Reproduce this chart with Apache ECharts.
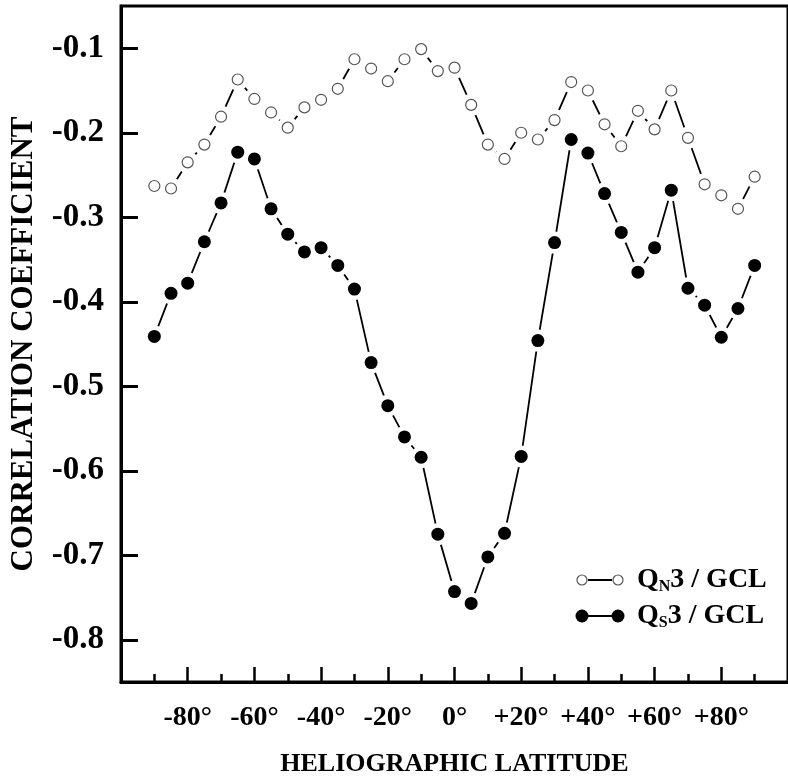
<!DOCTYPE html>
<html><head><meta charset="utf-8">
<script src="https://cdn.jsdelivr.net/npm/echarts@6/dist/echarts.min.js"></script>
<style>html,body{margin:0;padding:0;background:#fff}#c{width:788px;height:782px}</style>
</head><body><div id="c"></div>
<script>
// Heliographic latitude (degrees)
const latitudes = [-90,-85,-80,-75,-70,-65,-60,-55,-50,-45,-40,-35,-30,-25,-20,-15,-10,-5,0,5,10,15,20,25,30,35,40,45,50,55,60,65,70,75,80,85,90];
// Q_N3 / GCL correlation coefficient (open circles)
const qn3 = [-0.263,-0.266,-0.235,-0.214,-0.181,-0.137,-0.160,-0.176,-0.194,-0.170,-0.161,-0.148,-0.113,-0.124,-0.139,-0.113,-0.101,-0.127,-0.123,-0.167,-0.214,-0.231,-0.200,-0.208,-0.185,-0.140,-0.150,-0.190,-0.216,-0.174,-0.196,-0.150,-0.206,-0.261,-0.274,-0.290,-0.252];
// Q_S3 / GCL correlation coefficient (filled circles)
const qs3 = [-0.441,-0.390,-0.378,-0.329,-0.283,-0.223,-0.231,-0.290,-0.320,-0.341,-0.336,-0.357,-0.385,-0.472,-0.523,-0.560,-0.584,-0.675,-0.743,-0.757,-0.702,-0.674,-0.583,-0.446,-0.330,-0.208,-0.224,-0.272,-0.318,-0.365,-0.336,-0.268,-0.384,-0.404,-0.442,-0.408,-0.357];
const yTickValues = [-0.8,-0.7,-0.6,-0.5,-0.4,-0.3,-0.2,-0.1];
const xLabelValues = [-80,-60,-40,-20,0,20,40,60,80];
const seriesNames = ['QN3 / GCL','QS3 / GCL'];

const FONT = '"Liberation Serif","Times New Roman",serif';
const pairs = arr => latitudes.map((x, i) => [x, arr[i]]);
const chart = echarts.init(document.getElementById('c'), null, {renderer: 'canvas'});

const haloLine = (name, arr) => ({
  name: name + ' line', type: 'line', data: pairs(arr), z: 2,
  symbol: 'circle', symbolSize: 22, showSymbol: true,
  itemStyle: {color: '#fff', borderWidth: 0, opacity: 1},
  lineStyle: {color: '#000', width: 1.8, opacity: 1},
  emphasis: {disabled: true}, silent: true
});

const legendRich = {
  m: {fontFamily: FONT, fontWeight: 'bold', fontSize: 28, lineHeight: 30, fill: '#000'},
  s: {fontFamily: FONT, fontWeight: 'bold', fontSize: 16, lineHeight: 6, verticalAlign: 'bottom', fill: '#000'}
};

const option = {
  animation: false,
  backgroundColor: '#fff',
  grid: {left: 119, top: 6, width: 680, height: 680, show: true, borderColor: '#000', borderWidth: 3, backgroundColor: 'transparent'},
  xAxis: {
    type: 'value', min: -100, max: 100, interval: 20,
    axisLine: {show: true, onZero: false, lineStyle: {color: '#000', width: 3}},
    axisTick: {show: true, inside: true, length: 15, lineStyle: {color: '#000', width: 2.5}},
    minorTick: {show: true, splitNumber: 2, length: 8, lineStyle: {color: '#000', width: 2.5}},
    splitLine: {show: false}, minorSplitLine: {show: false},
    axisLabel: {customValues: xLabelValues, margin: 22, fontFamily: FONT, fontWeight: 'bold', fontSize: 28, color: '#000',
      formatter: v => (v > 0 ? '+' : '') + v + '°'},
    name: 'HELIOGRAPHIC LATITUDE', nameLocation: 'middle', nameGap: 69,
    nameTextStyle: {fontFamily: FONT, fontWeight: 'bold', fontSize: 26, color: '#000'}
  },
  yAxis: {
    type: 'value', min: -0.85, max: -0.05,
    axisLine: {show: true, onZero: false, lineStyle: {color: '#000', width: 3}},
    axisTick: {show: true, inside: true, length: 17, customValues: yTickValues, lineStyle: {color: '#000', width: 3}},
    splitLine: {show: false},
    axisLabel: {customValues: yTickValues, margin: 17, fontFamily: FONT, fontWeight: 'bold', fontSize: 33, color: '#000',
      formatter: v => v.toFixed(1)},
    name: 'CORRELATION COEFFICIENT', nameLocation: 'middle', nameGap: 82,
    nameTextStyle: {fontFamily: FONT, fontWeight: 'bold', fontSize: 31, color: '#000'}
  },
  series: [
    haloLine(seriesNames[0], qn3),
    haloLine(seriesNames[1], qs3),
    {name: seriesNames[0], type: 'scatter', data: pairs(qn3), z: 4, symbol: 'circle', symbolSize: 11,
     itemStyle: {color: '#fff', borderColor: '#555', borderWidth: 1.2, opacity: 1}, silent: true},
    {name: seriesNames[1], type: 'scatter', data: pairs(qs3), z: 4, symbol: 'circle', symbolSize: 13,
     itemStyle: {color: '#000', opacity: 1}, silent: true}
  ],
  graphic: [
    {type: 'line', shape: {x1: 588, y1: 580, x2: 612, y2: 580}, style: {stroke: '#000', lineWidth: 2}},
    {type: 'circle', shape: {cx: 582, cy: 580, r: 5}, style: {fill: '#fff', stroke: '#555', lineWidth: 1.2}},
    {type: 'circle', shape: {cx: 618, cy: 580, r: 5}, style: {fill: '#fff', stroke: '#555', lineWidth: 1.2}},
    {type: 'text', x: 637, y: 580, style: {text: '{m|Q}{s|N}{m|3 / GCL}', verticalAlign: 'middle', align: 'left', rich: legendRich}},
    {type: 'line', shape: {x1: 588, y1: 616, x2: 612, y2: 616}, style: {stroke: '#000', lineWidth: 2}},
    {type: 'circle', shape: {cx: 582, cy: 616, r: 6.5}, style: {fill: '#000'}},
    {type: 'circle', shape: {cx: 618, cy: 616, r: 6.5}, style: {fill: '#000'}},
    {type: 'text', x: 637, y: 616, style: {text: '{m|Q}{s|S}{m|3 / GCL}', verticalAlign: 'middle', align: 'left', rich: legendRich}}
  ]
};
chart.setOption(option);
</script></body></html>
